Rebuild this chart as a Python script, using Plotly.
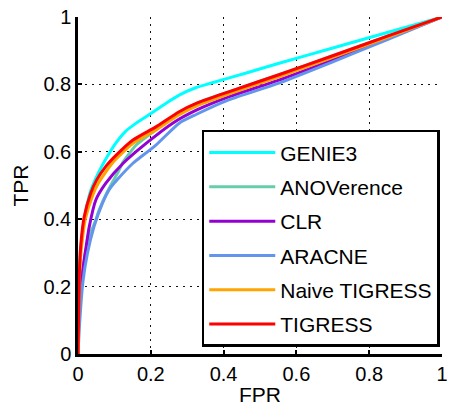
import plotly.graph_objects as go

names = ["GENIE3", "ANOVerence", "CLR", "ARACNE", "Naive TIGRESS", "TIGRESS"]
colors = ["#00FFFF", "#66CDAA", "#9400D3", "#6495ED", "#FFA500", "#FF0000"]

genie3_fpr = [0, 0.002, 0.005, 0.01, 0.022, 0.035, 0.055, 0.08, 0.1, 0.13, 0.16, 0.19, 0.242, 0.278, 0.323, 0.369, 0.46, 0.55, 0.7, 0.85, 1.0]
genie3_tpr = [0, 0.2, 0.28, 0.34, 0.427, 0.485, 0.535, 0.585, 0.62, 0.66, 0.685, 0.706, 0.744, 0.768, 0.79, 0.805, 0.833, 0.862, 0.908, 0.954, 1.0]

anov_fpr = [0, 0.004, 0.01, 0.02, 0.035, 0.049, 0.058, 0.08, 0.113, 0.124, 0.16, 0.214, 0.278, 0.328, 0.414, 0.55, 0.7, 0.85, 1.0]
anov_tpr = [0, 0.15, 0.22, 0.3, 0.36, 0.398, 0.427, 0.48, 0.546, 0.57, 0.62, 0.665, 0.715, 0.745, 0.778, 0.828, 0.885, 0.943, 1.0]

clr_fpr = [0, 0.003, 0.007, 0.017, 0.031, 0.049, 0.076, 0.124, 0.187, 0.26, 0.328, 0.414, 0.55, 0.7, 0.85, 1.0]
clr_tpr = [0, 0.15, 0.2, 0.279, 0.378, 0.457, 0.506, 0.566, 0.625, 0.685, 0.725, 0.763, 0.812, 0.873, 0.936, 1.0]

aracne_fpr = [0, 0.005, 0.013, 0.026, 0.044, 0.067, 0.087, 0.11, 0.151, 0.167, 0.214, 0.278, 0.323, 0.414, 0.55, 0.7, 0.85, 1.0]
aracne_tpr = [0, 0.1, 0.21, 0.299, 0.378, 0.447, 0.49, 0.52, 0.566, 0.58, 0.62, 0.685, 0.71, 0.754, 0.803, 0.867, 0.933, 1.0]

naive_fpr = [0, 0.003, 0.005, 0.01, 0.02, 0.04, 0.055, 0.094, 0.151, 0.214, 0.278, 0.328, 0.414, 0.55, 0.7, 0.85, 1.0]
naive_tpr = [0, 0.2, 0.25, 0.32, 0.4, 0.47, 0.505, 0.566, 0.625, 0.665, 0.71, 0.737, 0.771, 0.822, 0.88, 0.94, 1.0]

tigress_fpr = [0, 0.003, 0.004, 0.008, 0.017, 0.035, 0.051, 0.076, 0.105, 0.151, 0.214, 0.278, 0.328, 0.414, 0.55, 0.7, 0.85, 1.0]
tigress_tpr = [0, 0.2, 0.249, 0.328, 0.407, 0.477, 0.516, 0.556, 0.59, 0.635, 0.674, 0.719, 0.745, 0.778, 0.828, 0.885, 0.943, 1.0]

series = [
    (genie3_fpr, genie3_tpr),
    (anov_fpr, anov_tpr),
    (clr_fpr, clr_tpr),
    (aracne_fpr, aracne_tpr),
    (naive_fpr, naive_tpr),
    (tigress_fpr, tigress_tpr),
]

ticks = [0, 0.2, 0.4, 0.6, 0.8, 1]
tick_text = ["0", "0.2", "0.4", "0.6", "0.8", "1"]

FONT = "Liberation Sans, Arial, Helvetica, sans-serif"

fig = go.Figure()
for name, color, (fx, ty) in zip(names, colors, series):
    fig.add_trace(go.Scatter(
        x=fx, y=ty, mode="lines", name=name, legendgroup=name,
        line=dict(color=color, width=3, shape="spline", smoothing=0.6),
    ))

axis_common = dict(
    range=[0, 1], tickvals=ticks, ticktext=tick_text,
    ticks="inside", ticklen=4, tickwidth=1.5, tickcolor="black",
    showline=True, linecolor="black", linewidth=2.5, mirror=False,
    showgrid=True, gridcolor="#111111", gridwidth=1.2, griddash="1.5px,5.5px",
    zeroline=False, tickfont=dict(family=FONT, size=20, color="black"),
    ticklabeloverflow="allow", automargin=False,
    layer="below traces",
)

fig.update_layout(
    width=449, height=408,
    margin=dict(l=78, r=7, t=17, b=54, autoexpand=False),
    paper_bgcolor="white", plot_bgcolor="white",
    font=dict(family=FONT, size=20, color="black"),
    xaxis=dict(title=dict(text="FPR", font=dict(family=FONT, size=21), standoff=4), **axis_common),
    yaxis=dict(title=dict(text="TPR", font=dict(family=FONT, size=21), standoff=10), **axis_common),
    legend=dict(
        x=0.34, y=0.665, xanchor="left", yanchor="top",
        bgcolor="white", bordercolor="black", borderwidth=2.5,
        font=dict(family=FONT, size=21, color="black"),
        itemwidth=66, tracegroupgap=4, traceorder="grouped",
    ),
    showlegend=True,
)

fig.write_html("out.html")
